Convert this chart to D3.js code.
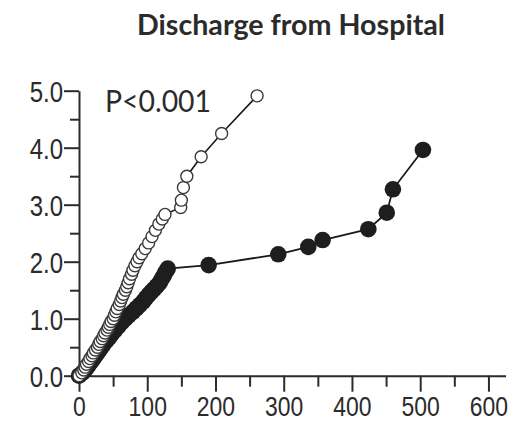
<!DOCTYPE html>
<html>
<head>
<meta charset="utf-8">
<script src="https://cdn.jsdelivr.net/npm/d3@7"></script>
<style>
  body { margin: 0; background: #fff; }
  svg { display: block; font-family: Lato, "Open Sans", sans-serif; }
</style>
</head>
<body>
<div id="chart"></div>
<script>
const width = 513;
const height = 423;

// days (x) and cumulative value (y)
const openX = [0, 4, 7, 9, 11, 14, 16, 19, 21, 24, 27, 29, 31, 34, 36, 38, 41, 43, 45, 47, 50,
  52, 54, 56, 59, 61, 63, 65, 68, 70, 72, 74, 77, 79, 82, 85, 88, 92, 97, 102, 107, 112, 117,
  122, 126, 149, 150, 153, 158, 179, 209, 261];
const openY = [0, 0.05, 0.1, 0.15, 0.2, 0.25, 0.3, 0.35, 0.4, 0.45, 0.5, 0.55, 0.6, 0.65, 0.7,
  0.75, 0.8, 0.85, 0.9, 0.95, 1.0, 1.06, 1.12, 1.18, 1.25, 1.31, 1.37, 1.43, 1.5, 1.56, 1.63,
  1.7, 1.78, 1.85, 1.93, 2.0, 2.07, 2.14, 2.23, 2.33, 2.44, 2.55, 2.66, 2.75, 2.83, 2.95, 3.08,
  3.3, 3.5, 3.84, 4.25, 4.91];

const filledX = [0, 5, 9, 12, 15, 18, 21, 24, 27, 30, 33, 36, 40, 44, 48, 53, 58, 63, 68, 73,
  79, 84, 89, 94, 98, 102, 106, 110, 114, 118, 121, 124, 127, 130, 190, 292, 336, 357, 424,
  451, 460, 504];
const filledY = [0, 0.05, 0.1, 0.15, 0.2, 0.25, 0.3, 0.35, 0.4, 0.45, 0.5, 0.55, 0.61, 0.67,
  0.73, 0.8, 0.87, 0.94, 1.0, 1.06, 1.12, 1.18, 1.24, 1.3, 1.36, 1.42, 1.47, 1.52, 1.57,
  1.63, 1.69, 1.75, 1.82, 1.88, 1.94, 2.13, 2.26, 2.38, 2.57, 2.86, 3.27, 3.96];

const xTicks = [0, 100, 200, 300, 400, 500, 600];
const xMinor = [50, 150, 250, 350, 450, 550];
const yTicks = [0, 1, 2, 3, 4, 5];
const yMinor = [0.5, 1.5, 2.5, 3.5, 4.5];

const title = "Discharge from Hospital";
const pLabel = "P<0.001";

const ink = "#2b2b2b";

const svg = d3.select("#chart").append("svg")
    .attr("width", width)
    .attr("height", height);

const x = d3.scaleLinear().domain([0, 625]).range([79, 505.5]);
const y = d3.scaleLinear().domain([0, 5]).range([375.7, 90.7]);

// title + p value
svg.append("text")
    .attr("x", 291)
    .attr("y", 35)
    .attr("text-anchor", "middle")
    .attr("font-weight", "bold")
    .attr("font-size", 28)
    .attr("fill", ink)
    .attr("textLength", 308)
    .attr("lengthAdjust", "spacingAndGlyphs")
    .text(title);

svg.append("text")
    .attr("x", 105)
    .attr("y", 111.7)
    .attr("font-size", 31)
    .attr("fill", ink)
    .attr("textLength", 106)
    .attr("lengthAdjust", "spacingAndGlyphs")
    .text(pLabel);

// axes
const styleAxis = g => {
    g.selectAll("path, line").attr("stroke", ink).attr("stroke-width", 2);
    g.selectAll("text").attr("fill", ink).attr("font-size", 30);
};

svg.append("g")
    .attr("transform", `translate(0,${y(0)})`)
    .call(d3.axisBottom(x).tickValues(xMinor).tickSize(11).tickFormat("").tickSizeOuter(0))
    .call(g => g.select(".domain").remove())
    .call(styleAxis);

svg.append("g")
    .attr("transform", `translate(0,${y(0)})`)
    .call(d3.axisBottom(x).tickValues(xTicks).tickSize(16).tickSizeOuter(0))
    .call(styleAxis)
    .call(g => g.selectAll("text")
        .attr("font-size", 28)
        .attr("y", 0).attr("dy", 0)
        .attr("transform", "translate(0,40.5) scale(0.82,1)"));

svg.append("g")
    .attr("transform", `translate(${x(0)},0)`)
    .call(d3.axisLeft(y).tickValues(yMinor).tickSize(9).tickFormat("").tickSizeOuter(0))
    .call(g => g.select(".domain").remove())
    .call(styleAxis);

svg.append("g")
    .attr("transform", `translate(${x(0)},0)`)
    .call(d3.axisLeft(y).tickValues(yTicks).tickSize(15).tickSizeOuter(0).tickFormat(d3.format(".1f")))
    .call(styleAxis)
    .call(g => g.selectAll("text")
        .attr("x", 0).attr("dy", "0.36em")
        .attr("transform", "translate(-16,0) scale(0.8,1)"));

// series
const line = d3.line().x(d => x(d[0])).y(d => y(d[1]));

const filled = d3.zip(filledX, filledY);
const open = d3.zip(openX, openY);

svg.append("path")
    .datum(filled)
    .attr("fill", "none")
    .attr("stroke", "#1a1a1a")
    .attr("stroke-width", 1.8)
    .attr("d", line);

svg.append("g")
    .selectAll("circle")
    .data(filled)
    .join("circle")
    .attr("cx", d => x(d[0]))
    .attr("cy", d => y(d[1]))
    .attr("r", 8.3)
    .attr("fill", "#1e1e1e");

svg.append("path")
    .datum(open)
    .attr("fill", "none")
    .attr("stroke", "#1a1a1a")
    .attr("stroke-width", 1.6)
    .attr("d", line);

svg.append("g")
    .selectAll("circle")
    .data(open)
    .join("circle")
    .attr("cx", d => x(d[0]))
    .attr("cy", d => y(d[1]))
    .attr("r", 6)
    .attr("fill", "#fff")
    .attr("stroke", "#3a3a3a")
    .attr("stroke-width", 1.4);
</script>
</body>
</html>
